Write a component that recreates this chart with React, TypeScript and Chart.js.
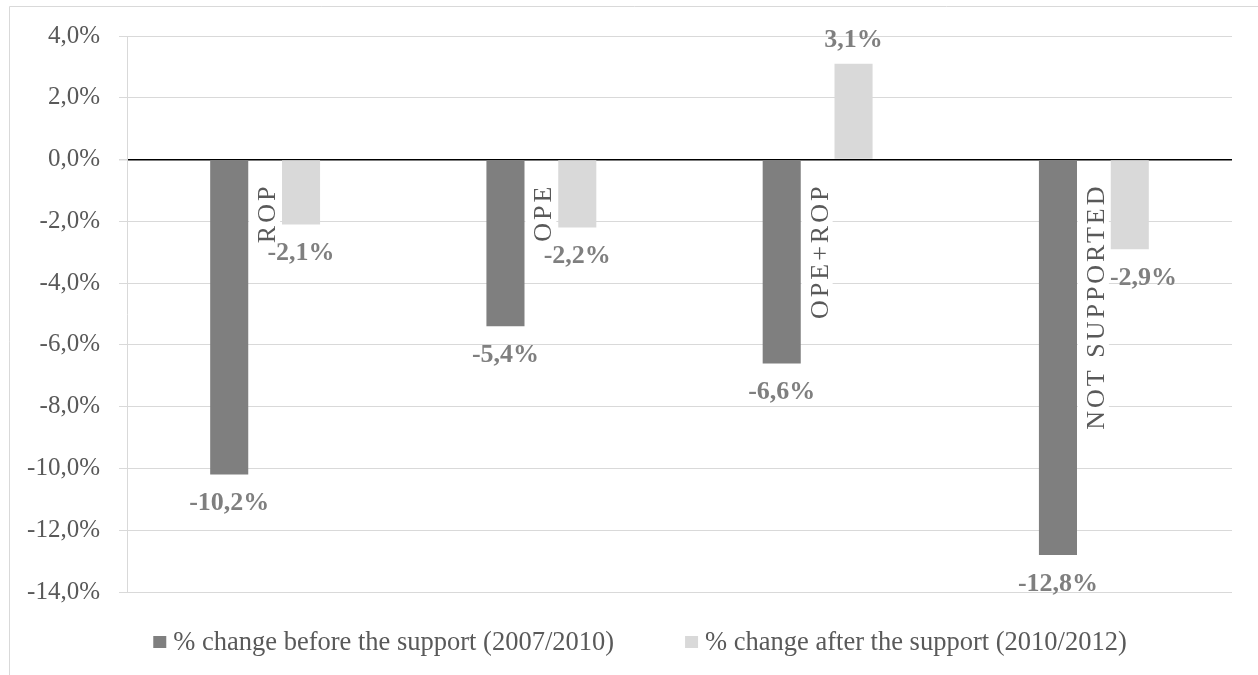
import React, { useEffect, useRef } from "react";
import { Chart, registerables } from "chart.js";

Chart.register(...registerables);

const categories = ["ROP", "OPE", "OPE+ROP", "NOT SUPPORTED"];
const seriesNames = [
  "% change before the support (2007/2010)",
  "% change after the support (2010/2012)",
];
const beforeValues = [-10.2, -5.4, -6.6, -12.8];
const afterValues = [-2.1, -2.2, 3.1, -2.9];
const yMin = -14;
const yMax = 4;
const yStep = 2;

const fmt = (v: number) => v.toFixed(1).replace(".", ",") + "%";

const SERIF = "'Liberation Serif', 'Times New Roman', serif";

const framePlugin = {
  id: "frame",
  beforeDraw(chart: any) {
    const ctx = chart.ctx;
    ctx.save();
    ctx.fillStyle = "#ffffff";
    ctx.fillRect(0, 0, chart.width, chart.height);
    ctx.strokeStyle = "#d9d9d9";
    ctx.lineWidth = 1;
    ctx.beginPath();
    ctx.moveTo(9.5, chart.height + 2);
    ctx.lineTo(9.5, 6.5);
    ctx.lineTo(chart.width + 2, 6.5);
    ctx.stroke();
    ctx.restore();
  },
};

const labelsPlugin = {
  id: "customLabels",
  afterDatasetsDraw(chart: any) {
    const ctx = chart.ctx;
    const xs = chart.scales.x;
    const ys = chart.scales.y;
    const zero = ys.getPixelForValue(0);
    ctx.save();

    // category labels (rotated, on white boxes)
    ctx.font = `26px ${SERIF}`;
    (ctx as any).letterSpacing = "3px";
    const boxes: { l: number; r: number; t: number; b: number }[] = [];
    categories.forEach((c, i) => {
      const cx = xs.getPixelForValue(i);
      const w = ctx.measureText(c).width;
      const bx = cx + 10;
      const by = zero + 21;
      const box = { l: bx - 26, r: bx + 5, t: by + 1, b: by + w + 2 };
      boxes.push(box);
      ctx.fillStyle = "#ffffff";
      ctx.fillRect(box.l, box.t, box.r - box.l, box.b - box.t);
      ctx.save();
      ctx.translate(bx, by);
      ctx.rotate(-Math.PI / 2);
      ctx.fillStyle = "#595959";
      ctx.textAlign = "right";
      ctx.textBaseline = "alphabetic";
      ctx.fillText(c, -3, 0);
      ctx.restore();
    });
    (ctx as any).letterSpacing = "0px";

    // data labels
    ctx.font = `bold 26px ${SERIF}`;
    ctx.fillStyle = "#7f7f7f";
    ctx.textAlign = "center";
    ctx.textBaseline = "middle";
    chart.data.datasets.forEach((ds: any, di: number) => {
      const meta = chart.getDatasetMeta(di);
      meta.data.forEach((bar: any, i: number) => {
        const v = ds.data[i] as number;
        const text = fmt(v);
        const w = ctx.measureText(text).width;
        const yy = v >= 0 ? bar.y - 24 : bar.y + 29;
        let xx = bar.x;
        const box = boxes[i];
        const l = xx - w / 2;
        const r = xx + w / 2;
        if (l < box.r && r > box.l && yy + 9 > box.t && yy - 9 < box.b && xx > box.l) {
          xx = box.r + 1 + w / 2;
        }
        ctx.fillText(text, xx, yy);
      });
    });
    ctx.restore();
  },
};

const legendPlugin = {
  id: "customLegend",
  afterDraw(chart: any) {
    const ctx = chart.ctx;
    ctx.save();
    ctx.font = `26.5px ${SERIF}`;
    ctx.textBaseline = "middle";
    ctx.textAlign = "left";
    const boxW = 13;
    const boxH = 12;
    const boxGap = 7;
    const itemGap = 71;
    const ds = chart.data.datasets;
    const widths = ds.map((d: any) => boxW + boxGap + ctx.measureText(d.label).width);
    const total = widths.reduce((a: number, b: number) => a + b, 0) + itemGap * (ds.length - 1);
    let x = 640 - total / 2;
    const cy = 642;
    ds.forEach((d: any, i: number) => {
      ctx.fillStyle = d.backgroundColor;
      ctx.fillRect(x, cy - boxH / 2, boxW, boxH);
      ctx.fillStyle = "#595959";
      ctx.fillText(d.label, x + boxW + boxGap, cy + 1);
      x += widths[i] + itemGap;
    });
    ctx.restore();
  },
};

export default function App() {
  const ref = useRef<HTMLCanvasElement | null>(null);

  useEffect(() => {
    if (!ref.current) return;
    const chart = new Chart(ref.current, {
      type: "bar",
      data: {
        labels: categories,
        datasets: [
          {
            label: seriesNames[0],
            data: beforeValues,
            backgroundColor: "#7f7f7f",
            borderWidth: 0,
            categoryPercentage: 0.52,
            barPercentage: 0.53,
          },
          {
            label: seriesNames[1],
            data: afterValues,
            backgroundColor: "#d9d9d9",
            borderWidth: 0,
            categoryPercentage: 0.52,
            barPercentage: 0.53,
          },
        ],
      },
      options: {
        responsive: false,
        animation: false,
        layout: { padding: { top: 36, right: 26, bottom: 83, left: 0 } },
        plugins: {
          tooltip: { enabled: false },
          legend: { display: false },
        },
        scales: {
          x: { display: false },
          y: {
            min: yMin,
            max: yMax,
            afterFit: (scale: any) => {
              scale.width = 127;
            },
            ticks: {
              stepSize: yStep,
              callback: (v: any) => fmt(Number(v)),
              font: { family: SERIF, size: 25 },
              color: "#595959",
              padding: 19,
            },
            grid: {
              color: (c: any) => (c.tick && c.tick.value === 0 ? "#000000" : "#d9d9d9"),
              lineWidth: (c: any) => (c.tick && c.tick.value === 0 ? 1.5 : 1),
              tickColor: "#d9d9d9",
              tickLength: 8,
            },
            border: { display: true, color: "#d9d9d9", width: 1 },
          },
        },
      },
      plugins: [framePlugin, labelsPlugin, legendPlugin],
    });
    return () => chart.destroy();
  }, []);

  return (
    <div style={{ position: "fixed", left: 0, top: 0, width: 1258, height: 675 }}>
      <canvas ref={ref} width={1258} height={675} style={{ display: "block" }} />
    </div>
  );
}
